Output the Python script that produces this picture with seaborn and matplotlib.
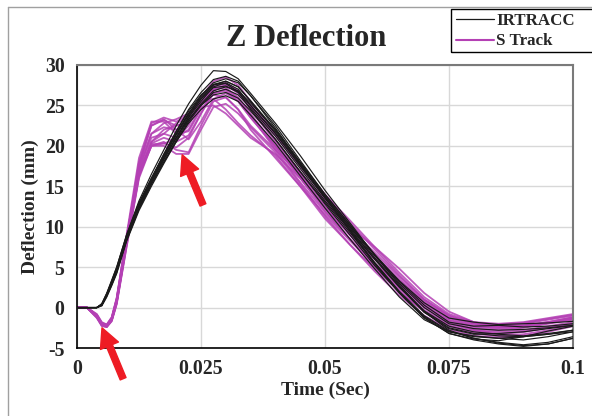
import numpy as np
import pandas as pd
import matplotlib
matplotlib.use("Agg")
import matplotlib.pyplot as plt
from matplotlib.lines import Line2D
from matplotlib.patches import Rectangle
import seaborn as sns

# ---------------- data ----------------
time = [0, 0.002, 0.004, 0.005, 0.006, 0.007, 0.008, 0.01, 0.0125, 0.015, 0.0175,
        0.02, 0.0225, 0.025, 0.0275, 0.03, 0.0325, 0.035, 0.04, 0.045, 0.05, 0.055,
        0.06, 0.065, 0.07, 0.075, 0.08, 0.085, 0.09, 0.095, 0.1]

irtracc_curves = [
    [0,0,0,0.4,1.7,3.3,5.0,9.0,13.2,16.5,19.5,22.5,25.2,27.5,29.3,29.2,28.3,26.5,22.8,18.8,14.5,10.5,6.5,2.8,-0.5,-2.8,-3.8,-4.3,-4.6,-4.3,-3.6],
    [0,0,0,0.3,1.5,3.0,4.5,8.5,12.5,15.5,18.3,21.0,23.5,25.5,27.3,27.8,27.0,25.0,21.5,17.5,13.5,9.8,6.0,2.5,-0.5,-2.5,-3.2,-3.5,-3.6,-3.3,-2.8],
    [0,0,0,0.5,1.8,3.4,5.0,9.0,13.0,16.0,19.0,21.8,24.3,26.3,27.6,27.7,26.7,24.5,20.8,16.8,12.8,9.0,5.2,1.8,-1.2,-3.2,-4.0,-4.5,-4.8,-4.5,-3.8],
    [0,0,0,0.3,1.4,2.8,4.3,8.3,12.2,15.2,18.0,20.7,23.2,25.2,26.8,27.3,26.8,25.3,22.0,18.0,14.0,10.3,6.5,3.0,0.0,-2.0,-2.6,-2.8,-2.7,-2.5,-2.2],
    [0,0,0,0.4,1.6,3.1,4.7,8.7,12.8,16.0,18.8,21.5,24.0,26.0,27.5,28.0,27.3,25.5,21.8,17.8,13.8,10.0,6.2,2.6,-0.6,-2.6,-3.3,-3.2,-3.0,-2.6,-2.2],
    [0,0,0,0.3,1.5,2.9,4.4,8.4,12.3,15.3,18.0,20.5,22.8,24.5,25.8,26.2,25.5,23.8,20.3,16.3,12.3,8.5,4.8,1.3,-1.5,-3.0,-3.5,-3.8,-4.0,-3.6,-3.0],
    [0,0,0,0.4,1.7,3.2,4.8,8.8,12.8,15.8,18.8,21.5,24.0,26.2,27.8,28.3,27.8,26.2,22.5,18.2,14.0,10.2,6.6,3.2,0.3,-1.8,-2.3,-2.2,-2.4,-2.3,-2.0],
    [0,0,0,0.2,1.3,2.7,4.2,8.2,12.0,15.0,17.8,20.5,23.0,25.0,26.6,27.0,26.3,24.7,21.2,17.2,13.2,9.6,6.0,2.6,-0.4,-2.3,-3.0,-3.3,-3.5,-3.2,-2.8],
    [0,0,0,0.4,1.6,3.1,4.6,8.6,12.6,15.7,18.6,21.3,23.8,25.8,27.2,27.4,26.6,25.0,21.6,17.6,13.7,10.0,6.5,3.3,0.6,-1.3,-1.8,-2.1,-2.0,-1.9,-1.7],
    [0,0,0,0.3,1.5,3.0,4.5,8.5,12.4,15.5,18.3,21.0,23.6,25.8,27.6,28.0,27.3,25.6,22.0,17.8,13.6,9.6,5.6,2.0,-1.0,-2.9,-3.8,-4.4,-4.7,-4.5,-3.8],
    [0,0,0,0.4,1.6,3.1,4.7,8.7,12.6,15.6,18.5,21.0,23.3,25.0,26.3,26.6,25.9,24.3,20.8,16.8,13.0,9.3,5.5,1.9,-1.1,-3.0,-3.6,-3.8,-3.6,-3.3,-3.0],
    [0,0,0,0.3,1.5,3.0,4.6,8.6,12.7,15.9,18.9,21.8,24.5,26.6,28.2,28.6,28.0,26.2,22.2,17.9,13.6,9.5,5.4,1.8,-1.3,-3.2,-3.9,-4.1,-3.6,-2.9,-2.3],
]

strack_curves = [
    [0,0,-1.0,-2.0,-2.3,-1.4,1.0,8.5,18.0,22.8,23.5,23.0,23.8,26.0,28.0,28.5,27.5,25.5,21.5,17.5,13.5,10.0,6.5,3.5,0.8,-1.2,-2.0,-2.2,-2.0,-1.5,-1.0],
    [0,0,-1.2,-2.2,-2.4,-1.6,0.6,8.0,17.5,22.5,23.2,22.5,22.8,25.0,27.0,27.5,26.5,24.5,20.5,16.5,12.5,9.0,5.5,2.5,0.0,-1.8,-2.6,-2.8,-2.5,-2.0,-1.5],
    [0,0,-0.8,-1.8,-2.1,-1.2,1.2,9.0,18.5,23.0,23.0,21.5,21.8,24.5,26.5,26.8,25.5,23.5,19.8,16.0,12.3,9.0,6.0,3.2,0.5,-1.5,-2.3,-2.5,-2.2,-1.8,-1.3],
    [0,0,-1.1,-2.1,-2.3,-1.5,0.8,8.2,16.5,20.0,20.5,19.5,19.2,22.5,25.5,26.0,24.5,22.0,18.5,15.0,11.5,8.3,5.2,2.3,-0.3,-2.0,-2.8,-3.0,-2.8,-2.3,-1.8],
    [0,0,-1.0,-2.0,-2.2,-1.4,0.9,8.4,16.8,20.2,20.3,19.8,21.0,24.0,26.5,27.0,25.8,23.8,19.5,15.5,11.8,8.5,5.5,2.8,0.2,-1.6,-2.4,-2.6,-2.4,-1.9,-1.4],
    [0,0,-1.3,-2.3,-2.4,-1.7,0.4,7.5,16.0,20.0,20.3,20.8,22.5,25.5,27.5,27.8,26.8,25.0,21.3,17.5,13.8,10.5,7.2,4.0,1.0,-1.0,-2.0,-2.3,-2.2,-1.8,-1.2],
    [0,0,-0.9,-1.9,-2.2,-1.3,1.1,8.8,17.2,21.0,21.5,21.0,22.0,24.8,25.0,24.0,22.5,21.0,19.0,16.0,12.0,8.5,5.0,2.0,-0.5,-2.2,-3.0,-3.3,-3.0,-2.5,-2.0],
    [0,0,-1.2,-2.2,-2.3,-1.6,0.6,7.8,16.2,20.5,22.0,22.5,23.0,25.0,27.0,27.2,26.0,24.0,20.0,16.2,12.5,9.2,6.0,3.0,0.3,-1.8,-2.8,-3.2,-3.0,-2.5,-2.0],
    [0,0,-1.0,-2.0,-2.2,-1.4,0.9,8.3,17.0,21.5,22.8,23.3,24.0,25.5,25.8,24.5,22.8,21.3,18.8,15.0,11.0,7.8,4.8,2.0,-0.5,-2.3,-3.2,-3.5,-3.3,-2.8,-2.2],
    [0,0,-1.1,-2.1,-2.3,-1.5,0.7,8.0,16.5,20.3,21.0,20.5,21.3,24.0,26.8,27.5,26.7,25.0,21.5,17.8,14.0,10.8,7.5,4.3,1.3,-0.8,-1.8,-2.0,-1.8,-1.3,-0.8],
    [0,0,-1.0,-2.0,-2.3,-1.4,0.8,8.2,17.8,22.5,23.3,22.0,20.8,23.0,25.8,26.5,25.5,23.5,20.0,16.8,13.0,9.5,6.2,3.3,0.6,-1.3,-2.2,-2.4,-2.3,-1.8,-1.2],
    [0,0,-1.2,-2.2,-2.4,-1.6,0.5,7.6,16.3,20.0,20.0,19.0,19.0,22.0,24.8,25.2,24.0,22.3,19.2,15.3,11.3,7.8,4.5,1.5,-1.0,-2.7,-3.5,-3.7,-3.5,-3.0,-2.3],
    [0,0,-0.9,-1.9,-2.1,-1.2,1.1,8.7,17.5,21.5,22.3,22.0,22.8,25.3,27.3,27.7,26.8,24.8,20.8,16.8,13.0,9.8,6.8,3.8,1.0,-1.0,-1.9,-2.1,-1.9,-1.4,-0.9],
    [0,0,-1.1,-2.1,-2.3,-1.5,0.7,8.0,16.8,20.5,21.5,22.8,23.5,25.3,26.3,26.0,24.5,22.5,19.5,16.5,13.3,10.0,7.5,4.8,1.8,-0.5,-1.8,-2.3,-2.3,-1.9,-1.4],
]

series_names = ["IRTRACC", "S Track"]
x_ticks = [0, 0.025, 0.05, 0.075, 0.1]
x_tick_labels = ["0", "0.025", "0.05", "0.075", "0.1"]
y_ticks = [-5, 0, 5, 10, 15, 20, 25, 30]

# ---------------- long-form table ----------------
rows = []
for name, curves in zip(series_names, [irtracc_curves, strack_curves]):
    for i, c in enumerate(curves):
        for t, v in zip(time, c):
            rows.append((name, f"{name}-{i}", t, v))
df = pd.DataFrame(rows, columns=["sensor", "run", "time", "defl"])

# ---------------- style ----------------
sns.set_style("white")
plt.rcParams["font.family"] = ["Liberation Serif", "DejaVu Serif"]
plt.rcParams["font.weight"] = "bold"
plt.rcParams["axes.unicode_minus"] = False

W, H = 592, 416
fig = plt.figure(figsize=(W / 100, H / 100), dpi=100)
ax = fig.add_axes([77 / W, 1 - 348 / H, (573 - 77) / W, (348 - 65) / H])

colors = {"IRTRACC": "#1a1a1a", "S Track": "#b440b4"}
sns.lineplot(data=df[df.sensor == "IRTRACC"], x="time", y="defl", units="run",
             estimator=None, color=colors["IRTRACC"], lw=0.85, ax=ax, legend=False,
             sort=False, zorder=3)
sns.lineplot(data=df[df.sensor == "S Track"], x="time", y="defl", units="run",
             estimator=None, color=colors["S Track"], lw=1.3, alpha=0.85, ax=ax,
             legend=False, sort=False, zorder=2)

ax.set_xlim(0, 0.1)
ax.set_ylim(-5, 30)
ax.set_xticks(x_ticks)
ax.set_xticklabels(x_tick_labels)
ax.set_xticks([0.0125, 0.0375, 0.0625, 0.0875], minor=True)
ax.set_yticks(y_ticks)
ax.set_yticklabels([str(v) for v in y_ticks])
ax.set_yticks([-2.5, 2.5, 7.5, 12.5, 17.5, 22.5, 27.5], minor=True)

ax.grid(True, which="major", color="#d8d8d8", lw=1, zorder=0)
ax.set_axisbelow(True)

ax.tick_params(axis="both", which="major", direction="inout", length=10, width=1,
               color="black", labelsize=14.3, pad=3)
ax.tick_params(axis="both", which="minor", direction="inout", length=6, width=1,
               color="black")
ax.tick_params(axis="y", which="major", pad=4)

for s in ["left", "bottom"]:
    ax.spines[s].set_color("black")
    ax.spines[s].set_linewidth(1.2)
for s in ["top", "right"]:
    ax.spines[s].set_color("#7a7a7a")
    ax.spines[s].set_linewidth(1.5)
    ax.spines[s].set_visible(True)

for lbl in ax.get_xticklabels() + ax.get_yticklabels():
    lbl.set_fontweight("bold")

ax.set_xlabel("Time (Sec)", fontsize=14, fontweight="bold")
ax.set_ylabel("Deflection (mm)", fontsize=14, fontweight="bold")
ax.xaxis.set_label_coords(0.5, -0.118)
ax.yaxis.set_label_coords(-0.076, 0.5)

fig.text(306 / W, 1 - 38 / H, "Z Deflection", ha="center", va="center",
         fontsize=22, fontweight="bold")

# red arrows
arrow = dict(facecolor="#ee1c24", edgecolor="#ee1c24", width=4.5, headwidth=14,
             headlength=14, shrink=0)
ax.annotate("", xy=(0.00504, -2.5), xytext=(0.0093, -8.8), arrowprops=arrow,
            annotation_clip=False, zorder=6)
ax.annotate("", xy=(0.0212, 18.9), xytext=(0.0254, 12.7), arrowprops=arrow,
            annotation_clip=False, zorder=6)

# legend
handles = [Line2D([], [], color=colors["IRTRACC"], lw=0.9),
           Line2D([], [], color=colors["S Track"], lw=1.5)]
leg = fig.legend(handles, series_names, loc="upper left",
                 bbox_to_anchor=(452 / W, 1 - 9 / H), bbox_transform=fig.transFigure,
                 frameon=False, handlelength=2.2, handletextpad=0.15,
                 borderpad=0.25, borderaxespad=0, labelspacing=0.25,
                 prop={"weight": "bold", "size": 12.2})
fig.add_artist(Rectangle((451 / W, 1 - 52 / H), 0.3, 43 / H, transform=fig.transFigure,
                         fill=False, ec="black", lw=1, clip_on=False))

# outer chart-area border (partially visible)
fig.add_artist(Line2D([8 / W, 1], [1 - 7 / H, 1 - 7 / H], color="#a0a0a0", lw=1,
                      transform=fig.transFigure))
fig.add_artist(Line2D([8 / W, 8 / W], [0, 1 - 7 / H], color="#a0a0a0", lw=1,
                      transform=fig.transFigure))

fig.savefig("out.png", dpi=100)
